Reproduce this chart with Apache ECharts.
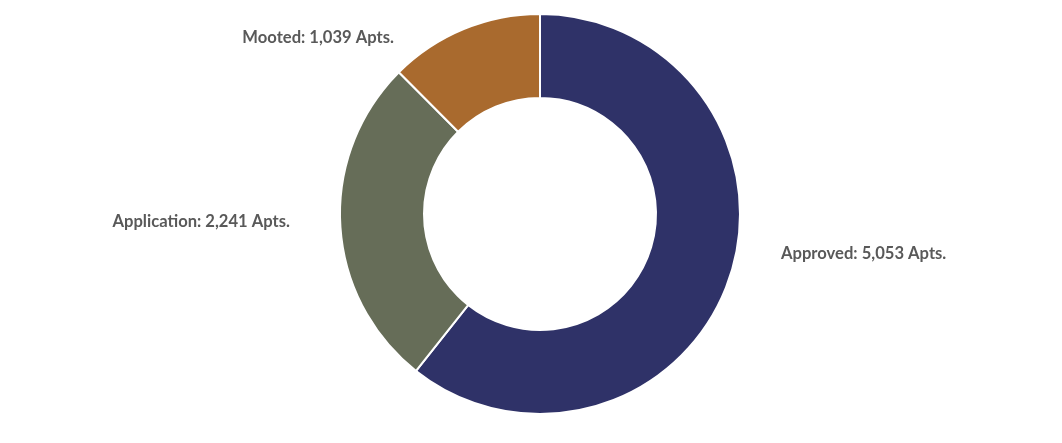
<!DOCTYPE html>
<html><head><meta charset="utf-8">
<script src="https://cdn.jsdelivr.net/npm/echarts@6/dist/echarts.min.js"></script>
<style>html,body{margin:0;padding:0;background:#fff}#c{width:1062px;height:443px}</style>
</head><body><div id="c"></div>
<script>
const categories = ['Approved', 'Application', 'Mooted'];
const values = [5053, 2241, 1039];
const colors = ['#2f3268', '#666d58', '#a96a2e'];
const labelSpots = {
  Approved: {x: 781, y: 254, align: 'left'},
  Application: {x: 290, y: 222, align: 'right'},
  Mooted: {x: 394, y: 38, align: 'right'}
};
const chart = echarts.init(document.getElementById('c'));
chart.setOption({
  animation: false,
  series: [{
    type: 'pie',
    center: [540, 214],
    radius: [116, 200],
    startAngle: 90,
    clockwise: true,
    avoidLabelOverlap: false,
    data: categories.map((c, i) => ({name: c, value: values[i], itemStyle: {color: colors[i]}})),
    itemStyle: {borderColor: '#fff', borderWidth: 2},
    label: {
      show: true,
      position: 'outside',
      formatter: p => p.name + ': ' + p.value.toLocaleString('en-US') + ' Apts.',
      color: '#595959',
      fontFamily: 'Lato',
      fontWeight: 'bold',
      fontSize: 16.6,
      verticalAlign: 'middle'
    },
    labelLine: {show: false},
    labelLayout: function (p) {
      const s = labelSpots[categories[p.dataIndex]];
      return {x: s.x, y: s.y, align: s.align, verticalAlign: 'middle'};
    },
    emphasis: {disabled: true}
  }]
});
</script></body></html>
